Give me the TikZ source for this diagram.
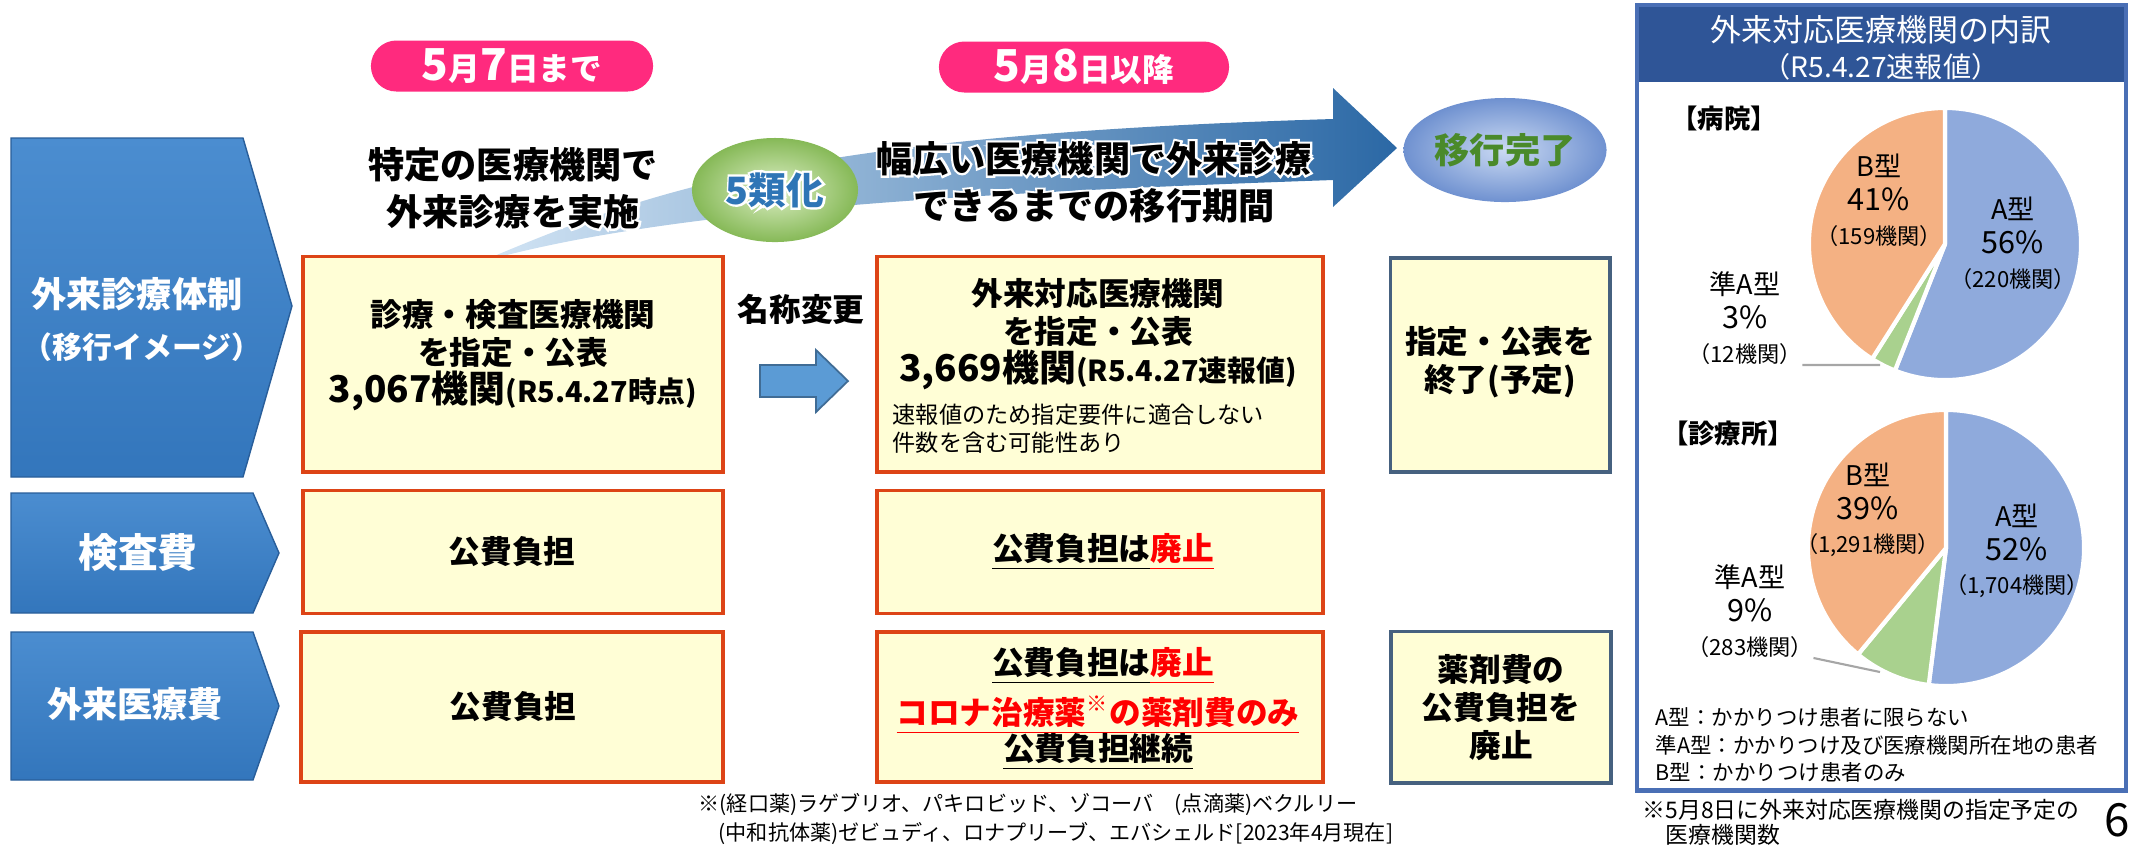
\documentclass[tikz,border=0pt]{standalone}
\usepackage{fontspec}
\setmainfont{Noto Sans CJK JP}
\newfontfamily\halofont{Noto Sans CJK JP}[FakeBold=12]
\usetikzlibrary{shapes.geometric}
\definecolor{pillpink}{HTML}{FF2A7E}
\definecolor{chevblue}{HTML}{3376BC}
\definecolor{chevlight}{HTML}{4B8DD0}
\definecolor{chevedge}{HTML}{295E9A}
\definecolor{boxfill}{HTML}{FFFED6}
\definecolor{boxred}{HTML}{DD4416}
\definecolor{boxslate}{HTML}{46617F}
\definecolor{arrowlight}{HTML}{D3E5F5}
\definecolor{arrowdark}{HTML}{2B68A5}
\definecolor{smallarrow}{HTML}{5B9BD5}
\definecolor{greenin}{HTML}{DDEFC6}
\definecolor{greenout}{HTML}{86B957}
\definecolor{bluein}{HTML}{CBDAF3}
\definecolor{blueout}{HTML}{6F91D0}
\definecolor{classblue}{HTML}{2E75B6}
\definecolor{donegreen}{HTML}{4A8A2A}
\definecolor{panelblue}{HTML}{2F5597}
\definecolor{panelline}{HTML}{4A6FB5}
\definecolor{pieA}{HTML}{8FAADC}
\definecolor{pieB}{HTML}{F4B183}
\definecolor{pieC}{HTML}{A9D18E}
\newcommand{\fsz}[2]{\fontsize{#1}{#2}\selectfont}
\newcommand{\halo}[1]{\leavevmode\rlap{\halofont\color{white}#1}#1}
\begin{document}
\begin{tikzpicture}[x=0.01cm, y=-0.01cm, every text node part/.style={align=center}]
  \tikzset{
    pill/.style={fill=pillpink, text=white, font=\bfseries\fsz{9}{11}, minimum height=0.51cm, rounded corners=0.255cm, inner sep=0pt},
    ybox/.style={draw=boxred, fill=boxfill, line width=1.1pt, inner sep=0pt},
    sbox/.style={ybox, draw=boxslate},
    boxtext/.style={font=\bfseries\fsz{9}{10.8}, inner sep=0pt},
    chevtext/.style={text=white, font=\bfseries\fsz{10}{12}, inner sep=0pt},
    halotext/.style={font=\bfseries\fsz{10.3}{13.4}, inner sep=0pt},
    pietext/.style={font=\fsz{7.7}{9.6}, inner sep=0pt},
    smalltext/.style={font=\fsz{6.1}{7.8}, inner sep=0pt, anchor=west},
    slice/.style={draw=white, line width=1.2pt, line join=round},
    leader/.style={draw=gray!70, line width=0.6pt},
  }
  \useasboundingbox (0,0) rectangle (2142,850);
  % row headers
  \shadedraw[top color=chevlight, bottom color=chevblue, draw=chevedge] (11,138) -- (243,138) -- (292,306) -- (243,477) -- (11,477) -- cycle;
  \shadedraw[top color=chevlight, bottom color=chevblue, draw=chevedge] (11,493) -- (253,493) -- (279,553) -- (253,613) -- (11,613) -- cycle;
  \shadedraw[top color=chevlight, bottom color=chevblue, draw=chevedge] (11,632) -- (253,632) -- (279,706) -- (253,780) -- (11,780) -- cycle;
  \node[chevtext] (systxt) at (137,294) {外来診療体制};
  \node[chevtext, font=\bfseries\fsz{8.5}{10}] (syssub) at (142,347) {（移行イメージ）};
  \node[chevtext, font=\bfseries\fsz{11.3}{13}] (testtxt) at (138,552) {検査費};
  \node[chevtext] (caretxt) at (135,704) {外来医療費};
  % dates
  \node[pill, minimum width=2.82cm] (until) at (512,66) {{\fsz{12.5}{14}5}月{\fsz{12.5}{14}7}日まで};
  \node[pill, minimum width=2.90cm] (after) at (1084,67) {{\fsz{12.5}{14}5}月{\fsz{12.5}{14}8}日以降};
  % transition arrow
  \shade[left color=arrowlight, right color=arrowdark] (480,262) .. controls (650,190) and (800,135) .. (1333,119) -- (1333,88) -- (1397,148) -- (1333,207) -- (1333,180) .. controls (900,195) and (650,215) .. (480,262) -- cycle;
  \node[halotext] (nowtxt) at (513,188) {\halo{特定の医療機関で}\\\halo{外来診療を実施}};
  \node[halotext] (periodtxt) at (1094,182) {\halo{幅広い医療機関で外来診療}\\\halo{できるまでの移行期間}};
  \node[ellipse, inner color=greenin, outer color=greenout, minimum width=1.66cm, minimum height=1.04cm, inner sep=0pt, text=classblue, font=\bfseries\fsz{10.7}{12}] (fifth) at (775,190) {\halo{5類化}};
  \node[ellipse, inner color=bluein, outer color=blueout, minimum width=2.03cm, minimum height=1.04cm, inner sep=0pt, text=donegreen, font=\bfseries\fsz{10}{12}] (done) at (1505,150) {移行完了};
  % boxes
  \node[ybox, minimum width=4.20cm, minimum height=2.15cm] (testing) at (513,364) {};
  \node[ybox, minimum width=4.20cm, minimum height=1.23cm] (testfee) at (513,552) {};
  \node[ybox, minimum width=4.22cm, minimum height=1.50cm] (carefee) at (512,707) {};
  \node[ybox, minimum width=4.46cm, minimum height=2.15cm] (outpat) at (1100,364) {};
  \node[ybox, minimum width=4.46cm, minimum height=1.23cm] (testend) at (1100,552) {};
  \node[ybox, minimum width=4.46cm, minimum height=1.50cm] (careend) at (1100,707) {};
  \node[sbox, minimum width=2.19cm, minimum height=2.14cm] (finish) at (1500,365) {};
  \node[sbox, minimum width=2.20cm, minimum height=1.51cm] (drugend) at (1501,707) {};
  \node[boxtext] (testingtxt) at (513,355) {診療・検査医療機関\\を指定・公表\\{\fsz{10.5}{10.8}3,067機関}{\fsz{8.2}{10.8}(R5.4.27時点)}};
  \node[boxtext] (outpattxt) at (1098,334) {外来対応医療機関\\を指定・公表\\{\fsz{10.5}{10.8}3,669機関}{\fsz{8.2}{10.8}(R5.4.27速報値)}};
  \node[boxtext, font=\fsz{6.6}{8}, anchor=west] (note1) at (892,415) {速報値のため指定要件に適合しない};
  \node[boxtext, font=\fsz{6.6}{8}, anchor=west] (note2) at (892,443) {件数を含む可能性あり};
  \node[boxtext] (finishtxt) at (1500,362) {指定・公表を\\終了(予定)};
  \node[boxtext] (testfeetxt) at (512,552) {公費負担};
  \node[boxtext] (carefeetxt) at (513,707) {公費負担};
  \node[boxtext] (testendtxt) at (1103,552) {\underline{公費負担は}\textcolor{red}{\underline{廃止}}};
  \node[boxtext] (careendtxt) at (1103,666) {\underline{公費負担は}\textcolor{red}{\underline{廃止}}};
  \node[boxtext, text=red] (coronatxt) at (1098,715) {\underline{コロナ治療薬\textsuperscript{※}の薬剤費のみ}};
  \node[boxtext] (continuetxt) at (1098,752) {\underline{公費負担継続}};
  \node[boxtext] (drugendtxt) at (1501,708) {薬剤費の\\公費負担を\\廃止};
  % renaming
  \node[boxtext] (renametxt) at (801,309) {名称変更};
  \filldraw[fill=smallarrow, draw=smallarrow!70!black, line width=0.5pt] (760,365) -- (816,365) -- (816,350) -- (848,381) -- (816,412) -- (816,397) -- (760,397) -- cycle;
  % breakdown panel
  \node[fill=panelblue, minimum width=4.89cm, minimum height=0.77cm, inner sep=0pt] (paneltitle) at (1881.5,43.5) {};
  \node[draw=panelline, line width=1.3pt, minimum width=4.89cm, minimum height=7.85cm, inner sep=0pt] (breakdown) at (1881.5,397.5) {};
  \node[text=white, font=\fsz{8.8}{10.2}, inner sep=0pt] (titletxt) at (1881,48) {外来対応医療機関の内訳\\{\fsz{8}{10.2}（R5.4.27速報値）}};
  \node[font=\bfseries\fsz{7.5}{9}, inner sep=0pt] (hosplbl) at (1724,118) {【病院】};
  \node[font=\bfseries\fsz{7.5}{9}, inner sep=0pt] (cliniclbl) at (1728,433) {【診療所】};
  \coordinate (hosp) at (1945,244);
  \filldraw[slice, fill=pieA] (hosp) -- ++(90:1.36cm) arc[start angle=90, end angle=-111.6, radius=1.36cm] -- cycle;
  \filldraw[slice, fill=pieC] (hosp) -- ++(-111.6:1.36cm) arc[start angle=-111.6, end angle=-122.4, radius=1.36cm] -- cycle;
  \filldraw[slice, fill=pieB] (hosp) -- ++(-122.4:1.36cm) arc[start angle=-122.4, end angle=-270, radius=1.36cm] -- cycle;
  \coordinate (clinic) at (1946,548);
  \filldraw[slice, fill=pieA] (clinic) -- ++(90:1.38cm) arc[start angle=90, end angle=-97.2, radius=1.38cm] -- cycle;
  \filldraw[slice, fill=pieC] (clinic) -- ++(-97.2:1.38cm) arc[start angle=-97.2, end angle=-129.6, radius=1.38cm] -- cycle;
  \filldraw[slice, fill=pieB] (clinic) -- ++(-129.6:1.38cm) arc[start angle=-129.6, end angle=-270, radius=1.38cm] -- cycle;
  \node[pietext] (hospB) at (1879,200) {B型\\{\fsz{8.7}{9.6}41\%}\\{\fsz{6.3}{9.6}（159機関）}};
  \node[pietext] (hospA) at (2013,243) {A型\\{\fsz{8.7}{9.6}56\%}\\{\fsz{6.3}{9.6}（220機関）}};
  \node[pietext] (hospC) at (1745,318) {準A型\\{\fsz{8.7}{9.6}3\%}\\{\fsz{6.3}{9.6}（12機関）}};
  \node[pietext] (clinB) at (1868,510) {B型\\{\fsz{8.7}{9.6}39\%}\\{\fsz{6.3}{9.6}（1,291機関）}};
  \node[pietext] (clinA) at (2017,551) {A型\\{\fsz{8.7}{9.6}52\%}\\{\fsz{6.3}{9.6}（1,704機関）}};
  \node[pietext] (clinC) at (1750,611) {準A型\\{\fsz{8.7}{9.6}9\%}\\{\fsz{6.3}{9.6}（283機関）}};
  \coordinate (hospCtip) at (1880,365);
  \coordinate (clinCtip) at (1880,672);
  \draw[leader] (hospC.south east) -- (hospCtip);
  \draw[leader] (clinC.south east) -- (clinCtip);
  \node[smalltext] (legA) at (1655,717) {A型：かかりつけ患者に限らない};
  \node[smalltext] (legAq) at (1655,745) {準A型：かかりつけ及び医療機関所在地の患者};
  \node[smalltext] (legB) at (1655,772) {B型：かかりつけ患者のみ};
  % footnotes
  \node[smalltext, font=\fsz{6.5}{8}] (panelnote1) at (1642,810) {※5月8日に外来対応医療機関の指定予定の};
  \node[smalltext, font=\fsz{6.5}{8}] (panelnote2) at (1665,835) {医療機関数};
  \node[font=\fsz{13}{15}, inner sep=0pt] (pageno) at (2117,820) {6};
  \node[smalltext, font=\fsz{6}{8}] (drugnote1) at (698,804) {※(経口薬)ラゲブリオ、パキロビッド、ゾコーバ　(点滴薬)ベクルリー};
  \node[smalltext, font=\fsz{6}{8}] (drugnote2) at (718,833) {(中和抗体薬)ゼビュディ、ロナプリーブ、エバシェルド[2023年4月現在]};
\end{tikzpicture}
\end{document}
